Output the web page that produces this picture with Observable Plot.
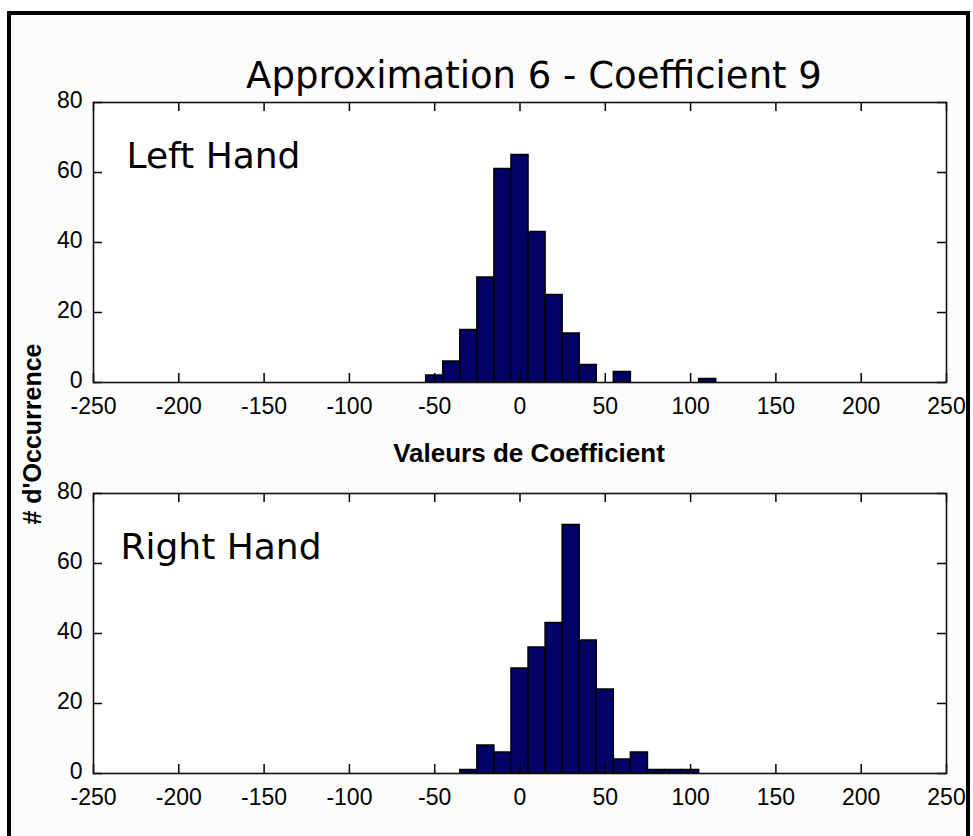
<!DOCTYPE html>
<html>
<head>
<meta charset="utf-8">
<script src="https://cdn.jsdelivr.net/npm/d3@7"></script>
<script src="https://cdn.jsdelivr.net/npm/@observablehq/plot@0.6"></script>
<style>
  html, body { margin: 0; padding: 0; background: #ffffff; }
  #wrap { position: relative; width: 973px; height: 836px; overflow: hidden; background: #ffffff; }
  #border { position: absolute; left: 7px; top: 11px; width: 963px; height: 840px;
            box-sizing: border-box; border: 4px solid #000; border-bottom: none; background: #fcfcfc; }
  .panel { position: absolute; left: 0; }
  #overlay { position: absolute; left: 0; top: 0; pointer-events: none; }
</style>
</head>
<body>
<div id="wrap">
  <div id="border"></div>
</div>
<script>
// ---- data ----
const xTicks = [-250, -200, -150, -100, -50, 0, 50, 100, 150, 200, 250];
const yTicks = [0, 20, 40, 60, 80];
const binWidth = 10;
const binCentersLeft = [-50, -40, -30, -20, -10, 0, 10, 20, 30, 40, 50, 60, 70, 80, 90, 100, 110];
const countsLeft     = [2, 6, 15, 30, 61, 65, 43, 25, 14, 5, 0, 3, 0, 0, 0, 0, 1];
const binCentersRight = [-30, -20, -10, 0, 10, 20, 30, 40, 50, 60, 70, 80, 90, 100];
const countsRight     = [1, 8, 6, 30, 36, 43, 71, 38, 24, 4, 6, 1, 1, 1];
const titleText = "Approximation 6 - Coefficient 9";
const xLabel = "Valeurs de Coefficient";
const yLabel = "# d'Occurrence";
const panelLabels = ["Left Hand", "Right Hand"];

const wrap = document.getElementById("wrap");
const W = 973;

function panel(centers, counts, label, cfg) {
  const data = centers.map((c, i) => ({x1: c - binWidth / 2, x2: c + binWidth / 2, n: counts[i]}));
  const innerW = W - cfg.ml - cfg.mr;
  const innerH = cfg.h - cfg.mt - cfg.mb;
  const tick = 9;
  const tLy = tick * 80 / innerH;
  const tLx = tick * 500 / innerW;
  const chart = Plot.plot({
    width: W,
    height: cfg.h,
    marginLeft: cfg.ml,
    marginRight: cfg.mr,
    marginTop: cfg.mt,
    marginBottom: cfg.mb,
    style: {background: "transparent", fontFamily: "'Liberation Sans', Arial, sans-serif", fontSize: "23px", color: "#000", overflow: "visible"},
    x: {domain: [-250, 250]},
    y: {domain: [0, 80]},
    marks: [
      Plot.frame({fill: "#ffffff", stroke: null}),
      Plot.rectY(data, {x1: "x1", x2: "x2", y: "n", fill: "#000066", stroke: "#000", strokeWidth: 1.5}),
      Plot.ruleX(xTicks, {x: d => d, y1: 0, y2: tLy, stroke: "#000", strokeWidth: 1.5}),
      Plot.ruleX(xTicks, {x: d => d, y1: 80 - tLy, y2: 80, stroke: "#000", strokeWidth: 1.5}),
      Plot.ruleY(yTicks, {y: d => d, x1: -250, x2: -250 + tLx, stroke: "#000", strokeWidth: 1.5}),
      Plot.ruleY(yTicks, {y: d => d, x1: 250 - tLx, x2: 250, stroke: "#000", strokeWidth: 1.5}),
      Plot.axisX(xTicks, {tickSize: 0, tickPadding: 15, label: null, fontSize: 23, tickFormat: d => String(d)}),
      Plot.axisY(yTicks, {tickSize: 0, tickPadding: 11, dy: -2, label: null, fontSize: 23}),
      Plot.frame({stroke: "#111", strokeWidth: 1.6}),
      Plot.text([label], {frameAnchor: "top-left", textAnchor: "start", lineAnchor: "top",
        dx: cfg.ldx, dy: cfg.ldy, fontSize: 36, fontFamily: "'DejaVu Sans', sans-serif", fill: "#000"})
    ]
  });
  chart.classList.add("panel");
  chart.style.top = cfg.top + "px";
  chart.style.position = "absolute";
  wrap.appendChild(chart);
}

panel(binCentersLeft, countsLeft, panelLabels[0], {top: 0, h: 420, ml: 93, mr: 27, mt: 102, mb: 38, ldx: 33, ldy: 40});
panel(binCentersRight, countsRight, panelLabels[1], {top: 420, h: 416, ml: 93, mr: 27, mt: 73, mb: 63, ldx: 27, ldy: 40});

// overlay texts
const svgNS = "http://www.w3.org/2000/svg";
const ov = document.createElementNS(svgNS, "svg");
ov.setAttribute("id", "overlay");
ov.setAttribute("width", W);
ov.setAttribute("height", 836);
function addText(txt, attrs) {
  const t = document.createElementNS(svgNS, "text");
  for (const k in attrs) t.setAttribute(k, attrs[k]);
  t.textContent = txt;
  ov.appendChild(t);
}
addText(titleText, {x: 534, y: 88, "text-anchor": "middle", "font-family": "'DejaVu Sans', sans-serif", "font-size": 37, fill: "#000"});
addText(xLabel, {x: 529, y: 462, "text-anchor": "middle", "font-family": "'Liberation Sans', Arial, sans-serif", "font-weight": "bold", "font-size": 26, fill: "#000"});
addText(yLabel, {x: 0, y: 0, transform: "translate(41,434) rotate(-90)", "text-anchor": "middle", "font-family": "'Liberation Sans', Arial, sans-serif", "font-weight": "bold", "font-size": 25, fill: "#000"});
wrap.appendChild(ov);
</script>
</body>
</html>
